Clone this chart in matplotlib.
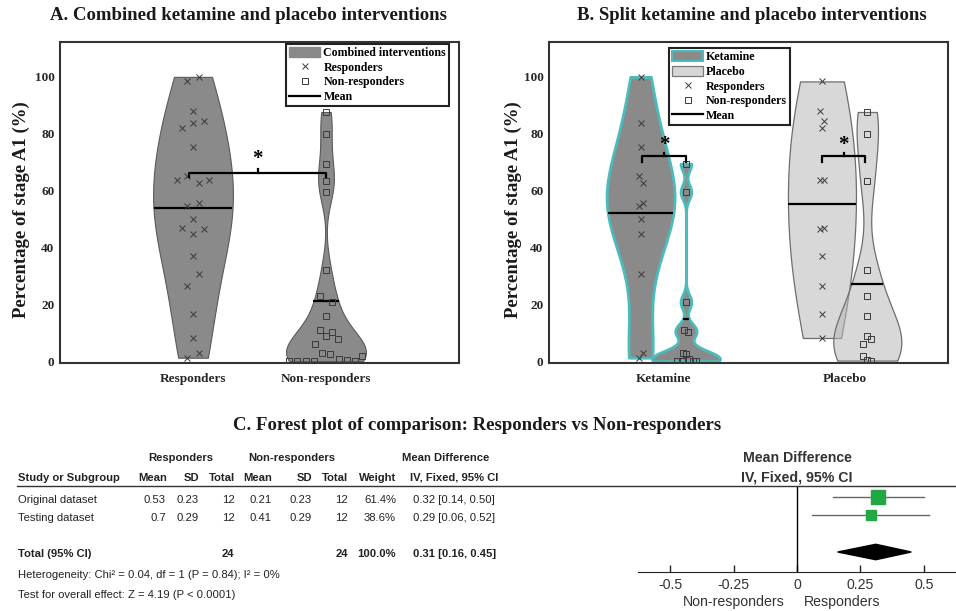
import numpy as np
import matplotlib
matplotlib.use('Agg')
import matplotlib.pyplot as plt
from matplotlib.lines import Line2D
from matplotlib.patches import Patch, Polygon

SERIF = 'Liberation Serif'
SANS = 'Liberation Sans'
INK = '#262626'

# percentage of stage A1 per subject
ket_resp = [99.8, 83.8, 75.1, 65.1, 62.8, 55.5, 54.5, 49.9, 44.9, 30.8, 3.3, 1.5]
pla_resp = [98.2, 88.0, 84.5, 82.0, 63.6, 63.7, 46.7, 46.9, 37.1, 26.7, 16.9, 8.4]
ket_nonresp = [69.4, 59.5, 21.0, 11.3, 10.4, 3.3, 2.7, 1.2, 0.3, 0.3, 0.3, 0.3]
pla_nonresp = [87.5, 79.9, 63.4, 32.1, 23.1, 16.1, 9.0, 7.9, 6.2, 2.0, 0.8, 0.5]

# swarm offsets in pixels (layout only)
jit_a_kr = [6, 0, 0, -6, 6, 6, -6, 0, 0, 6, 6, -6]
jit_a_pr = [-6, 0, 11, -11, -16, 16, 11, -11, 0, -6, 0, 0]
jit_a_kn = [0, 0, 6, -6, 6, -4, 4, 13, -37, -29, -20, -12]
jit_a_pn = [0, 0, 0, 0, -6, 0, 0, 12, -11, 36, 21, 29]
jit_b_kr = [0, 0, 0, -2, 2, 2, -2, 0, 0, 0, 2, -2]
jit_b_pr = [0, -2, 2, 0, -2, 2, -2, 2, 0, 0, 0, 0]
jit_b_kn = [0, 0, 0, -2, 2, -3, 0, 3, -9, -4, 7, 10]
jit_b_pn = [0, 0, 0, 0, 0, 0, 0, 4, -4, -4, 0, 4]

# forest plot table
studies = ['Original dataset', 'Testing dataset']
r_mean = [0.53, 0.7]
r_sd = [0.23, 0.29]
r_n = [12, 12]
nr_mean = [0.21, 0.41]
nr_sd = [0.23, 0.29]
nr_n = [12, 12]
weight = [61.4, 38.6]
md = [0.32, 0.29]
ci_lo = [0.14, 0.06]
ci_hi = [0.50, 0.52]
tot_md, tot_lo, tot_hi = 0.31, 0.16, 0.45
tot_r_n, tot_nr_n, tot_w = 24, 24, 100.0
het_text = 'Heterogeneity: Chi² = 0.04, df = 1 (P = 0.84); I² = 0%'
eff_text = 'Test for overall effect: Z = 4.19 (P < 0.0001)'

W, H = 956, 611
fig = plt.figure(figsize=(W / 100, H / 100), dpi=100)


def fx(p): return p / W
def fy(p): return 1 - p / H


def matlab_bw(kde):
    # ksdensity default bandwidth (MAD based), expressed as a factor of the std
    d = kde.dataset[0]
    sig = np.median(np.abs(d - np.median(d))) / 0.6745
    bw = sig * (4 / (3 * len(d))) ** 0.2
    return bw / d.std(ddof=1)


def violin(ax, data, pos, width, face, edge, lw, z):
    parts = ax.violinplot([data], positions=[pos], widths=width, showextrema=False,
                          bw_method=matlab_bw, points=400)
    body = parts['bodies'][0]
    body.set_alpha(None)
    body.set_facecolor(face)
    body.set_edgecolor(edge)
    body.set_linewidth(lw)
    body.set_zorder(z)
    v = body.get_paths()[0].vertices
    right = v[v[:, 0] >= pos]
    o = np.argsort(right[:, 1])
    m = np.mean(data)
    half = np.interp(m, right[o, 1], right[o, 0]) - pos
    ax.plot([pos - half, pos + half], [m, m], color='k', lw=1.6, zorder=z + 0.5,
            solid_capstyle='butt')


def swarm(ax, data, pos, jit, ppu, marker, z):
    x = pos + np.array(jit) / ppu
    if marker == 'x':
        ax.plot(x, data, 'x', ms=5, mew=0.7, color='#3a3a3a', zorder=z)
    else:
        ax.plot(x, data, 's', ms=4.6, mew=0.7, mfc='none', mec='#3a3a3a', zorder=z)


def bracket(ax, x0, x1, y, drop, star_y):
    xm = (x0 + x1) / 2
    ax.plot([x0, x0, x1, x1], [y - drop, y, y, y - drop], color='k', lw=1.6, zorder=10)
    ax.plot([xm, xm], [y, y + 1.2], color='k', lw=1.6, zorder=10)
    ax.text(xm, star_y, '*', ha='center', va='center', fontsize=15, fontweight='bold',
            family=SERIF, color='k', zorder=10)


def style_axes(ax):
    ax.set_ylim(-0.35, 112)
    ax.set_yticks(range(0, 101, 20))
    ax.tick_params(length=0, labelsize=9.5, labelcolor=INK)
    ax.tick_params(axis='y', pad=4)
    ax.tick_params(axis='x', pad=7)
    for lab in ax.get_xticklabels() + ax.get_yticklabels():
        lab.set_family(SERIF)
        lab.set_fontweight('bold')
    for s in ax.spines.values():
        s.set_color('#333333')
        s.set_linewidth(1.5)


GREY = '#8a8a8a'
TEAL = '#4bbcbc'
LIGHT = (0.72, 0.72, 0.72, 0.55)

# ---------------- panel A
axA = fig.add_axes([fx(60), fy(363), fx(399), (363 - 42) / H])
ppuA = 399 / 3
all_resp = ket_resp + pla_resp
all_nonresp = ket_nonresp + pla_nonresp
violin(axA, all_resp, 1, 0.6, GREY, '#5a5a5a', 0.8, 2)
violin(axA, all_nonresp, 2, 0.6, GREY, '#5a5a5a', 0.8, 2)
swarm(axA, all_resp, 1, jit_a_kr + jit_a_pr, ppuA, 'x', 4)
swarm(axA, all_nonresp, 2, jit_a_kn + jit_a_pn, ppuA, 's', 4)
bracket(axA, 0.97, 2.0, 66.2, 1.5, 71.0)
axA.set_xlim(0, 3)
axA.set_xticks([1, 2], ['Responders', 'Non-responders'])
style_axes(axA)
hA = [Patch(fc=GREY, ec=GREY),
      Line2D([], [], ls='none', marker='x', ms=5, mew=0.7, color='#3a3a3a'),
      Line2D([], [], ls='none', marker='s', ms=4.6, mew=0.7, mfc='none', mec='#3a3a3a'),
      Line2D([], [], color='k', lw=1.6)]
legA = axA.legend(hA, ['Combined interventions', 'Responders', 'Non-responders', 'Mean'],
                  loc='upper right', bbox_to_anchor=(0.975, 0.994), borderaxespad=0,
                  fancybox=False, framealpha=1, edgecolor='#222222',
                  prop={'family': SERIF, 'weight': 'bold', 'size': 8.6},
                  handlelength=2.6, handleheight=0.9, handletextpad=0.25,
                  labelspacing=0.22, borderpad=0.25)
legA.get_frame().set_linewidth(1.5)

# ---------------- panel B
axB = fig.add_axes([fx(549), fy(363), fx(399), (363 - 42) / H])
ppuB = 399 / 2.2
off = 0.125
violin(axB, ket_resp, 1 - off, 0.375, GREY, TEAL, 2.0, 2)
violin(axB, ket_nonresp, 1 + off, 0.375, GREY, TEAL, 2.0, 2)
violin(axB, pla_resp, 2 - off, 0.375, LIGHT, '#6e6e6e', 0.9, 2)
violin(axB, pla_nonresp, 2 + off, 0.375, LIGHT, '#6e6e6e', 0.9, 3)
swarm(axB, ket_resp, 1 - off, jit_b_kr, ppuB, 'x', 5)
swarm(axB, ket_nonresp, 1 + off, jit_b_kn, ppuB, 's', 5)
swarm(axB, pla_resp, 2 - off, jit_b_pr, ppuB, 'x', 5)
swarm(axB, pla_nonresp, 2 + off, jit_b_pn, ppuB, 's', 5)
bracket(axB, 1 - off + 0.01, 1 + off, 72.0, 2.0, 76.0)
bracket(axB, 2 - off, 2 + off - 0.01, 72.0, 2.0, 76.0)
axB.set_xlim(0.37, 2.57)
axB.set_xticks([1, 2], ['Ketamine', 'Placebo'])
style_axes(axB)
hB = [Patch(fc=GREY, ec=TEAL, lw=1.5),
      Patch(fc='#d6d6d6', ec='#777777', lw=0.9),
      Line2D([], [], ls='none', marker='x', ms=5, mew=0.7, color='#3a3a3a'),
      Line2D([], [], ls='none', marker='s', ms=4.6, mew=0.7, mfc='none', mec='#3a3a3a'),
      Line2D([], [], color='k', lw=1.6)]
legB = axB.legend(hB, ['Ketamine', 'Placebo', 'Responders', 'Non-responders', 'Mean'],
                  loc='upper left', bbox_to_anchor=(0.301, 0.981), borderaxespad=0,
                  fancybox=False, framealpha=1, edgecolor='#222222',
                  prop={'family': SERIF, 'weight': 'bold', 'size': 8.6},
                  handlelength=2.6, handleheight=0.9, handletextpad=0.25,
                  labelspacing=0.22, borderpad=0.25)
legB.get_frame().set_linewidth(1.5)

# titles / y labels
tkw = dict(family=SERIF, fontweight='bold', color='#1a1a1a', ha='center', va='center')
fig.text(fx(248), fy(15), 'A. Combined ketamine and placebo interventions', fontsize=13.5, **tkw)
fig.text(fx(752), fy(15), 'B. Split ketamine and placebo interventions', fontsize=13.5, **tkw)
fig.text(fx(21), fy(210), 'Percentage of stage A1 (%)', fontsize=13.5, rotation=90, **tkw)
fig.text(fx(513), fy(210), 'Percentage of stage A1 (%)', fontsize=13.5, rotation=90, **tkw)
fig.text(fx(477), fy(425), 'C. Forest plot of comparison: Responders vs Non-responders',
         fontsize=13.5, **tkw)

# ---------------- panel C table
TC = '#222222'
def t(x, y, s, ha='right', bold=False, size=8.1):
    fig.text(fx(x), fy(y), s, ha=ha, va='center', family=SANS, fontsize=size,
             fontweight='bold' if bold else 'normal', color=TC)

t(181, 458, 'Responders', 'center', True)
t(292, 458, 'Non-responders', 'center', True)
t(446, 458, 'Mean Difference', 'center', True)
t(18, 478, 'Study or Subgroup', 'left', True)
for x, s in [(167, 'Mean'), (199, 'SD'), (235, 'Total'), (272, 'Mean'), (312, 'SD'),
             (348, 'Total'), (396, 'Weight')]:
    t(x, 478, s, 'right', True)
t(410, 478, 'IV, Fixed, 95% CI', 'left', True)
fig.add_artist(Line2D([fx(17), fx(956)], [fy(486), fy(486)], color='#333333', lw=1.0))

for i, name in enumerate(studies):
    y = [500, 518][i]
    t(18, y, name, 'left')
    t(166, y, f'{r_mean[i]:g}')
    t(199, y, f'{r_sd[i]:g}')
    t(235, y, f'{r_n[i]}')
    t(272, y, f'{nr_mean[i]:g}')
    t(312, y, f'{nr_sd[i]:g}')
    t(348, y, f'{nr_n[i]}')
    t(396, y, f'{weight[i]:.1f}%')
    t(413, y, f'{md[i]:.2f} [{ci_lo[i]:.2f}, {ci_hi[i]:.2f}]', 'left')
t(18, 554, 'Total (95% CI)', 'left', True)
t(234, 554, f'{tot_r_n}', 'right', True)
t(348, 554, f'{tot_nr_n}', 'right', True)
t(396, 554, f'{tot_w:.1f}%', 'right', True)
t(413, 554, f'{tot_md:.2f} [{tot_lo:.2f}, {tot_hi:.2f}]', 'left', True)
t(18, 575, het_text, 'left')
t(18, 595, eff_text, 'left')

# ---------------- panel C forest
axC = fig.add_axes([fx(638), fy(572), fx(318), (572 - 486) / H])
rows = [0, 1]
row_px = 18.4
axC.set_ylim((572 - 497) / row_px, (486 - 497) / row_px)
axC.set_xlim(-0.626, 0.626)
axC.axvline(0, color='k', lw=1.0)
for i in rows:
    axC.plot([ci_lo[i], ci_hi[i]], [i, i], color='#666666', lw=1.0, zorder=3)
    side = 4 + 0.16 * weight[i]
    axC.plot(md[i], i, 's', ms=side * 0.72, mfc='#21a845', mec='#21a845', zorder=4)
ytot = (552 - 497) / row_px
dh = 0.42
axC.add_patch(Polygon([[tot_lo, ytot], [tot_md, ytot - dh], [tot_hi, ytot], [tot_md, ytot + dh]],
                      closed=True, fc='k', ec='k', zorder=4))
for s in ['top', 'left', 'right']:
    axC.spines[s].set_visible(False)
axC.spines['bottom'].set_color('#222222')
axC.set_yticks([])
axC.set_xticks([-0.5, -0.25, 0, 0.25, 0.5], ['-0.5', '-0.25', '0', '0.25', '0.5'])
axC.tick_params(axis='x', direction='in', length=5, width=1, pad=4, labelsize=10.2,
                labelcolor='#333333', color='#222222')
for lab in axC.get_xticklabels():
    lab.set_family(SANS)
axC.patch.set_alpha(0)
axC.text(-0.047, -0.35, 'Non-responders', transform=axC.get_xaxis_transform(),
         ha='right', va='center', family=SANS, fontsize=10.2, color='#333333')
axC.text(0.028, -0.35, 'Responders', transform=axC.get_xaxis_transform(),
         ha='left', va='center', family=SANS, fontsize=10.2, color='#333333')
fig.text(fx(797), fy(458), 'Mean Difference', ha='center', va='center', family=SANS,
         fontsize=10.2, fontweight='bold', color='#333333')
fig.text(fx(797), fy(477), 'IV, Fixed, 95% CI', ha='center', va='center', family=SANS,
         fontsize=10.2, fontweight='bold', color='#333333')

fig.savefig('out.png', dpi=100)
